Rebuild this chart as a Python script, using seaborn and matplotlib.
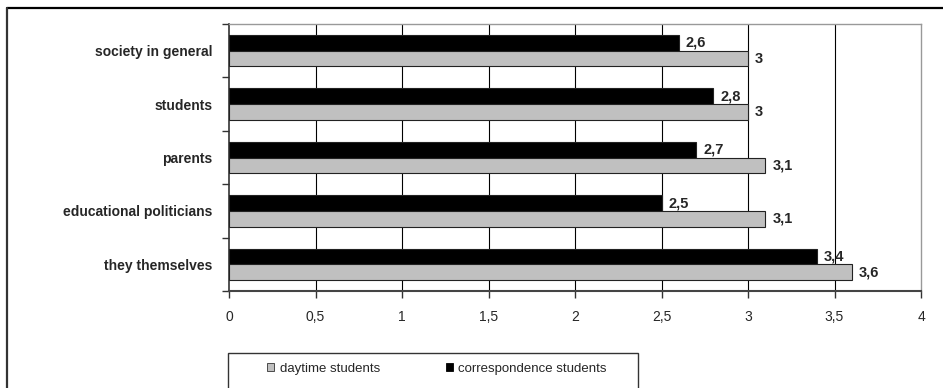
import matplotlib
matplotlib.use("Agg")
import matplotlib.pyplot as plt
from matplotlib.patches import Patch, Rectangle
from matplotlib.lines import Line2D
import seaborn as sns
import pandas as pd

# Ratings by group, per stakeholder
categories = ["society in general", "students", "parents",
              "educational politicians", "they themselves"]
correspondence = [2.6, 2.8, 2.7, 2.5, 3.4]
daytime = [3.0, 3.0, 3.1, 3.1, 3.6]
series_names = ["correspondence students", "daytime students"]
series_colors = {"correspondence students": "#000000",
                 "daytime students": "#C0C0C0"}
x_ticks = [0, 0.5, 1, 1.5, 2, 2.5, 3, 3.5, 4]

def comma(v):
    s = f"{v:g}"
    return s.replace(".", ",")

df = pd.DataFrame({
    "category": categories * 2,
    "value": correspondence + daytime,
    "group": [series_names[0]] * len(categories) + [series_names[1]] * len(categories),
})

sns.set_style("white")
plt.rcParams["font.family"] = ["Liberation Sans", "DejaVu Sans"]

W, H = 943, 388
fig = plt.figure(figsize=(W / 100, H / 100), dpi=100)
ax = fig.add_axes([229 / W, 1 - 291 / H, (921 - 229) / W, (291 - 24) / H])

sns.barplot(data=df, y="category", x="value", hue="group",
            hue_order=series_names, order=categories, orient="h",
            palette=series_colors, width=0.59, edgecolor="#222222",
            linewidth=0.8, legend=False, ax=ax, zorder=3)

ax.set_xlim(0, 4)
ax.set_ylim(len(categories) - 0.5, -0.5)
ax.set_xlabel("")
ax.set_ylabel("")

# vertical gridlines at every tick
for xv in x_ticks[1:-1]:
    ax.axvline(xv, color="#000000", lw=0.8, zorder=1)

ax.set_xticks(x_ticks)
ax.set_xticklabels([comma(v) for v in x_ticks], fontsize=10)

# category labels, ticks between categories
ax.set_yticks(range(len(categories)))
ax.set_yticklabels(categories, fontsize=10, fontweight="bold")
ax.tick_params(axis="y", length=0, pad=12)
ax.set_yticks([i - 0.5 for i in range(len(categories) + 1)], minor=True)
ax.tick_params(axis="y", which="minor", length=5, width=1, color="#333333", left=True)
ax.tick_params(axis="x", length=5, width=1, color="#333333", bottom=True, pad=9)

for side in ["top", "right"]:
    ax.spines[side].set_color("#999999")
    ax.spines[side].set_linewidth(1)
ax.spines["left"].set_color("#333333")
ax.spines["bottom"].set_color("#444444")
ax.spines["left"].set_linewidth(1.2)
ax.spines["bottom"].set_linewidth(1.5)

for cont, vals in zip(ax.containers, [correspondence, daytime]):
    ax.bar_label(cont, labels=[comma(v) for v in vals], padding=5,
                 fontsize=10.5, fontweight="bold", zorder=5)

# legend with its box
fig.add_artist(Rectangle((228 / W, -0.1), (638 - 228) / W, 0.1 + 1 - 353 / H,
                         transform=fig.transFigure, fill=False,
                         edgecolor="#333333", lw=1))
handles = [Patch(facecolor=series_colors["daytime students"], edgecolor="#333333", lw=0.6),
           Patch(facecolor=series_colors["correspondence students"], edgecolor="#000000", lw=0.6)]
fig.legend(handles, ["daytime students", "correspondence students"],
           loc="center left", bbox_to_anchor=(267 / W, 1 - 369 / H),
           ncol=2, frameon=False, fontsize=9.5, handlelength=0.55,
           handleheight=0.55, handletextpad=0.4, columnspacing=5.0,
           borderpad=0, borderaxespad=0)

# outer frame (top and left edges)
fig.add_artist(Line2D([7 / W, 1.0], [1 - 8 / H, 1 - 8 / H],
                      transform=fig.transFigure, color="#000000", lw=1.6))
fig.add_artist(Line2D([7 / W, 7 / W], [1 - 8 / H, 0.0],
                      transform=fig.transFigure, color="#333333", lw=1.6))

fig.savefig("out.png", dpi=100)
